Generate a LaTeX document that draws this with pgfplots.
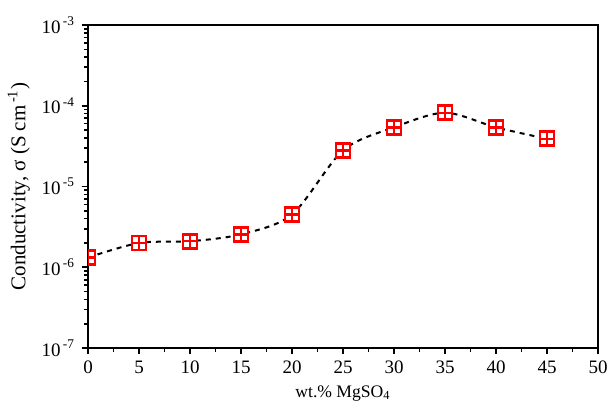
\documentclass[border=0pt]{standalone}
\usepackage{fontspec}
\setmainfont{Liberation Serif}
\usepackage{pgfplots}
\pgfplotsset{compat=1.18}
\begin{document}
\begin{tikzpicture}
\useasboundingbox (-44pt,-30pt) rectangle (260pt,174pt);
\begin{axis}[
  at={(0,0)}, anchor=south west,
  scale only axis, width=255pt, height=161.5pt,
  ymode=log, xmin=0, xmax=50, ymin=1e-7, ymax=1e-3,
  xtick={0,5,...,50}, minor x tick num=1,
  ytick={1e-7,1e-6,1e-5,1e-4,1e-3},
  yticklabels={10\textsuperscript{\,-7},10\textsuperscript{\,-6},10\textsuperscript{\,-5},10\textsuperscript{\,-4},10\textsuperscript{\,-3}},
  xtick pos=bottom, ytick pos=left, tick align=outside,
  major tick length=3pt, minor tick length=1.8pt,
  every tick/.style={black, line width=0.8pt},
  axis line style={line width=1pt},
  /pgf/number format/assume math mode=true,
  tick label style={font=\fontsize{9.5}{11}\selectfont},
  xlabel style={font=\fontsize{8.8}{10}\selectfont, yshift=1pt},
  ylabel style={font=\fontsize{10.5}{12}\selectfont, yshift=-1pt},
  xlabel={wt.\% MgSO\textsubscript{4}},
  ylabel={Conductivity, σ (S cm\textsuperscript{\,-1})},
  clip=true, clip marker paths=true]
\addplot[black, line width=1pt, dash pattern=on 2.5pt off 2.5pt, smooth, tension=0.5] coordinates {
  (0,1.32e-6)(5,2.0e-6)(10,2.1e-6)(15,2.56e-6)(20,4.5e-6)(25,2.8e-5)(30,5.4e-5)(35,8.2e-5)(40,5.4e-5)(45,3.9e-5)};
\addplot[only marks, mark=square*, mark size=3.5pt, mark options={draw=red, fill=white, line width=1.3pt}] coordinates {
  (0,1.32e-6)(5,2.0e-6)(10,2.1e-6)(15,2.56e-6)(20,4.5e-6)(25,2.8e-5)(30,5.4e-5)(35,8.2e-5)(40,5.4e-5)(45,3.9e-5)};
\addplot[only marks, mark=+, mark size=3.5pt, mark options={draw=red, line width=1.2pt}] coordinates {
  (0,1.32e-6)(5,2.0e-6)(10,2.1e-6)(15,2.56e-6)(20,4.5e-6)(25,2.8e-5)(30,5.4e-5)(35,8.2e-5)(40,5.4e-5)(45,3.9e-5)};
\end{axis}
\end{tikzpicture}
\end{document}
